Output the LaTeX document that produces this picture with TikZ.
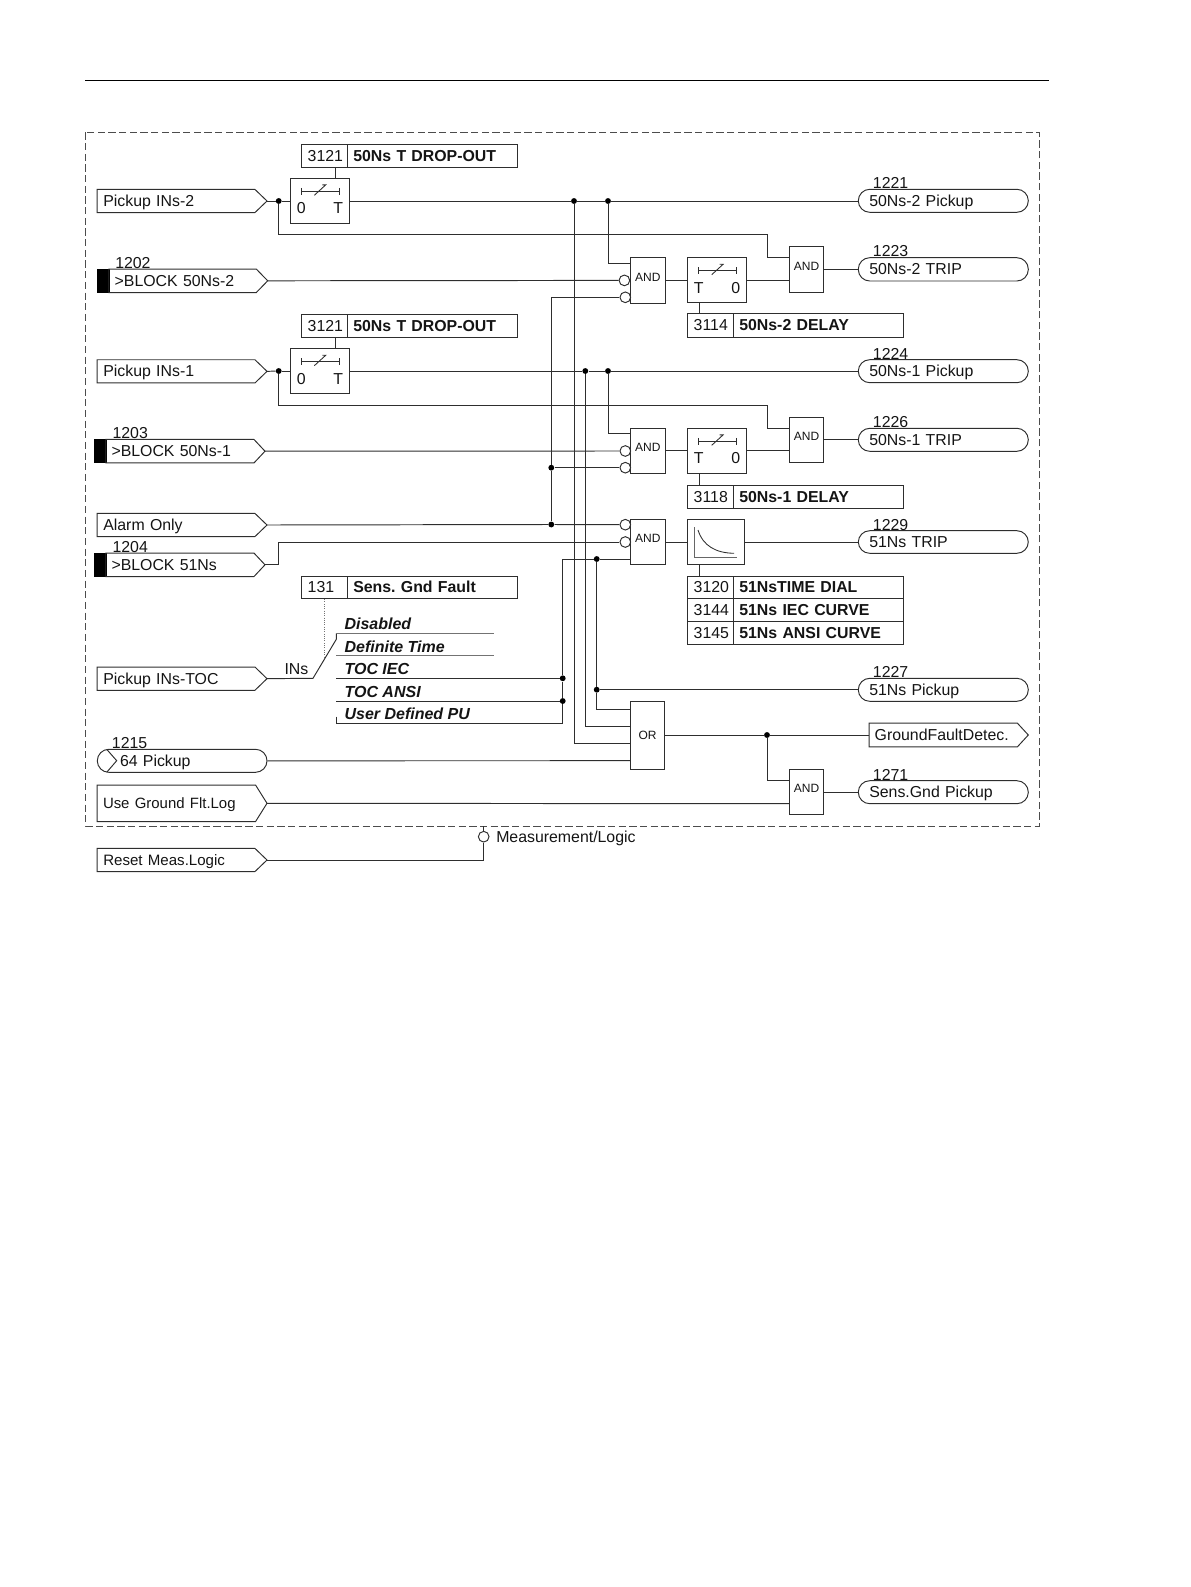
\documentclass[tikz,border=0pt]{standalone}
\usepackage{fontspec}
\setmainfont{Liberation Sans}
\definecolor{ink}{gray}{0.18}
\definecolor{txtc}{gray}{0.08}
\tikzset{
  wire/.style={draw=ink,line width=0.72pt,line join=miter},
  graywire/.style={draw=black!55,line width=0.72pt},
  dashframe/.style={draw=black!70,line width=0.72pt,dash pattern=on 5.4pt off 2.6pt},
  tb/.style={rectangle,inner ysep=0pt,align=left,text height=8.6pt,text depth=0.2pt,font=\fontsize{11.9}{14}\selectfont\frenchspacing,text=txtc},
  gatebox/.style={rectangle,draw=ink,line width=0.72pt,inner sep=0pt,font=\fontsize{9}{11}\selectfont,text=txtc,text height=6.5pt,text depth=5.2pt,align=center},
  orbox/.style={gatebox,text depth=0pt},
  plainbox/.style={gatebox,text height=0pt,text depth=0pt},
  pill/.style={draw=ink,line width=0.72pt,rounded corners=8.6pt},
  cell/.style={draw=ink,line width=0.72pt},
  dot/.style={circle,fill=black,inner sep=0pt,minimum size=4.4pt},
  inv/.style={circle,draw=ink,fill=white,line width=0.72pt,inner sep=0pt,minimum size=8pt},
  blk/.style={rectangle,fill=black,draw=black,line width=0.4pt,inner sep=0pt},
  lab/.style={anchor=west,inner sep=0pt,text height=8.6pt,text depth=0.2pt,font=\fontsize{11.9}{14}\selectfont\frenchspacing,text=txtc},
  opt/.style={lab,font=\fontsize{12}{14}\selectfont\bfseries\itshape},
  glyph/.style={draw=ink,line width=0.65pt},
}
% text box: [style]{name}{x0}{y0}{x1}{y1}{left pad}{text}
\newcommand{\tbox}[8][]{%
  \pgfmathsetmacro\mytw{(#5-#3-2*#7)*0.75}%
  \pgfmathsetmacro\mymw{(#5-#3)*0.75}%
  \pgfmathsetmacro\mymh{(#6-#4)*0.75}%
  \pgfmathsetmacro\mypad{#7*0.75}%
  \node[tb,#1,minimum width=\mymw pt,minimum height=\mymh pt,text width=\mytw pt,inner xsep=\mypad pt] (#2) at ({(#3+#5)/2},{(#4+#6)/2}) {#8};}
% gate: [style]{name}{x0}{y0}{x1}{y1}{text}
\newcommand{\gate}[7][gatebox]{%
  \pgfmathsetmacro\mymw{(#5-#3)*0.75}%
  \pgfmathsetmacro\mymh{(#6-#4)*0.75}%
  \node[#1,minimum width=\mymw pt,minimum height=\mymh pt] (#2) at ({(#3+#5)/2},{(#4+#6)/2}) {#7};}
% input flag: {name}{x0}{xshoulder}{xtip}{y0}{y1}{pad}{text}
\newcommand{\inp}[8]{%
  \tbox{#1}{#2}{#5}{#3}{#6}{#7}{#8}%
  \coordinate (#1tip) at (#4,{(#5+#6)/2});
  \draw[wire] (#1.north west) -- (#1.north east) -- (#1tip) -- (#1.south east) -- (#1.south west) -- cycle;}
% black bar: {name}{x0}{x1}{y0}{y1}
\newcommand{\blackbar}[5]{\gate[blk]{#1}{#2}{#4}{#3}{#5}{}}
% timer: {name}{x}{y}{left text}{right text}
\newcommand{\timer}[5]{%
  \gate[plainbox]{#1}{#2}{#3}{#2+58.7}{#3+45}{}%
  \begin{scope}[shift={(#2,#3)}]
    \draw[glyph] (10.7,9.5) -- (10.7,16.5);
    \draw[glyph] (48.7,9.5) -- (48.7,16.5);
    \draw[glyph] (10.7,13) -- (48.7,13);
    \draw[glyph] (24,17) -- (35.4,6.6) -- (32,6.6);
    \node[lab,anchor=center] (#1l) at (11,30) {#4};
    \node[lab,anchor=center] (#1r) at (48,30) {#5};
  \end{scope}}
% parameter row: {name}{x0}{xdiv}{x1}{y0}{y1}{num}{label}
\newcommand{\param}[8]{%
  \tbox[cell]{#1a}{#2}{#5}{#3}{#6}{6}{#7}%
  \tbox[cell]{#1b}{#3}{#5}{#4}{#6}{5.6}{\textbf{#8}}}
\begin{document}
\begin{tikzpicture}[x=0.75pt,y=-0.75pt]
\useasboundingbox (0,0) rectangle (1191,1587);
% page rule and frame
\coordinate (ruleA) at (85,80.5);
\coordinate (ruleB) at (1049,80.5);
\draw[draw=black,line width=0.6pt] (ruleA) -- (ruleB);
\coordinate (frA) at (85.5,132.5);
\coordinate (frB) at (1039,826);
\draw[dashframe] (frA) rectangle (frB);

% ---------- inputs
\inp{inA}{97.3}{254.7}{267}{189.7}{212.3}{6}{Pickup INs-2}
\blackbar{bkA}{97.3}{109}{269.3}{292.3}
\inp{inB}{109}{256}{267.7}{269.3}{292.3}{5.7}{>BLOCK 50Ns-2}
\inp{inC}{97.3}{254.7}{267}{360}{382.7}{6}{Pickup INs-1}
\blackbar{bkB}{94.7}{106}{439.7}{462.7}
\inp{inD}{106}{253.7}{265}{439.7}{462.7}{5.5}{>BLOCK 50Ns-1}
\inp{inE}{97.3}{254.7}{267}{513.7}{536.3}{6}{Alarm Only}
\blackbar{bkC}{94.7}{106}{553.3}{576.3}
\inp{inF}{106}{253.7}{265}{553.3}{576.3}{5.5}{>BLOCK 51Ns}
\inp{inG}{97.3}{254.7}{267}{667.3}{690}{6}{Pickup INs-TOC}
\tbox[pill]{inH}{97.3}{749.3}{267}{772.3}{22.7}{64 Pickup}
\coordinate (chA) at (106.7,749.3);
\coordinate (chB) at (116.7,760.7);
\coordinate (chC) at (106.7,772.3);
\draw[wire] (chA) -- (chB) -- (chC);
\inp{inI}{97.3}{255.3}{267}{785.3}{821.3}{5.7}{{\fontsize{11.2}{14}\selectfont Use Ground Flt.Log}}
\inp{inJ}{97.3}{254.7}{267}{848.7}{871.3}{6}{{\fontsize{11.3}{14}\selectfont Reset Meas.Logic}}

\node[lab] (nA) at (115,262.7) {1202};
\node[lab] (nB) at (112.3,433.3) {1203};
\node[lab] (nC) at (112.3,547) {1204};
\node[lab] (nD) at (111.7,743) {1215};

% ---------- parameter boxes
\param{pA}{301.7}{347.7}{517.3}{144.3}{167}{3121}{50Ns T DROP-OUT}
\param{pB}{301.7}{347.7}{517.3}{314.3}{337.3}{3121}{50Ns T DROP-OUT}
\param{pC}{301.7}{347.7}{517.3}{576}{598.7}{131}{Sens. Gnd Fault}
\param{pD}{687.7}{733.7}{903.3}{313.7}{337}{3114}{50Ns-2 DELAY}
\param{pE}{687.7}{733.7}{903.3}{485}{508.3}{3118}{50Ns-1 DELAY}
\param{pF}{687.7}{733.7}{903.3}{576}{598.7}{3120}{51NsTIME DIAL}
\param{pG}{687.7}{733.7}{903.3}{598.7}{621.3}{3144}{51Ns IEC CURVE}
\param{pH}{687.7}{733.7}{903.3}{621.3}{644}{3145}{51Ns ANSI CURVE}

% ---------- timers
\timer{tA}{290.3}{178.3}{0}{T}
\timer{tB}{290.3}{348.7}{0}{T}
\timer{tC}{687.7}{257.7}{T}{0}
\timer{tD}{687.7}{428.3}{T}{0}
\gate[plainbox]{tE}{687.7}{519.3}{744.3}{564.7}{}
\coordinate (axA) at (694.7,527.3);
\coordinate (axB) at (694.7,557);
\coordinate (axC) at (737.3,557);
\coordinate (cvA) at (698,530);
\coordinate (cvB) at (734,553.3);
\draw[draw=black!60,line width=0.72pt] (axA) -- (axB) -- (axC);
\draw[glyph] (cvA) .. controls (703,546) and (716,553) .. (cvB);

% ---------- gates
\gate{gA}{630.3}{257.7}{665.3}{303.3}{AND}
\gate{gB}{789.3}{246.3}{823.7}{292}{AND}
\gate{gC}{630.3}{428.3}{665.3}{473.7}{AND}
\gate{gD}{789.3}{417}{823.7}{462.7}{AND}
\gate{gE}{630.3}{519.3}{665.3}{564.3}{AND}
\gate[orbox]{gF}{630.3}{701}{664.7}{769.3}{OR}
\gate{gG}{789.3}{769.3}{823.7}{814.7}{AND}

% ---------- outputs
\tbox[pill]{oA}{858.3}{189.3}{1028.3}{212.3}{11}{50Ns-2 Pickup}
\tbox[pill]{oB}{858.3}{257.7}{1028.3}{281}{11}{50Ns-2 TRIP}
\tbox[pill]{oC}{858.3}{359.7}{1028.3}{382.7}{11}{50Ns-1 Pickup}
\tbox[pill]{oD}{858.3}{428.3}{1028.3}{451.3}{11}{50Ns-1 TRIP}
\tbox[pill]{oE}{858.3}{530.7}{1028.3}{553.3}{11}{51Ns TRIP}
\tbox[pill]{oF}{858.3}{678.3}{1028.3}{701.3}{11}{51Ns Pickup}
\inp{oG}{869.3}{1017}{1028.3}{723.3}{746.7}{5.4}{GroundFaultDetec.}
\tbox[pill]{oH}{858.3}{780.7}{1028.3}{803.7}{11}{Sens.Gnd Pickup}
\node[lab] (mA) at (872.7,183.3) {1221};
\node[lab] (mB) at (872.7,251.4) {1223};
\node[lab] (mC) at (872.7,353.4) {1224};
\node[lab] (mD) at (872.7,422) {1226};
\node[lab] (mE) at (872.7,524.4) {1229};
\node[lab] (mF) at (872.7,672) {1227};
\node[lab] (mG) at (872.7,774.4) {1271};

% ---------- junction dots
\node[dot] (dA) at (278.7,201) {};
\node[dot] (dB) at (574,201) {};
\node[dot] (dC) at (608,201) {};
\node[dot] (dD) at (278.7,371) {};
\node[dot] (dE) at (585.3,371) {};
\node[dot] (dF) at (608,371) {};
\node[dot] (dG) at (551.3,467.7) {};
\node[dot] (dH) at (551.3,524.5) {};
\node[dot] (dI) at (596.7,559) {};
\node[dot] (dJ) at (596.7,689.7) {};
\node[dot] (dK) at (562.7,678.3) {};
\node[dot] (dL) at (562.7,701) {};
\node[dot] (dM) at (767,735) {};

% ---------- inverting inputs
\node[inv] (iA) at (624.4,280.4) {};
\node[inv] (iB) at (625.3,297.3) {};
\node[inv] (iC) at (625.3,451) {};
\node[inv] (iD) at (625.3,467.7) {};
\node[inv] (iE) at (625.3,524.7) {};
\node[inv] (iF) at (625.3,542) {};

% ---------- named pins and bends
\coordinate (bA) at (767.3,234.7);
\coordinate (pB1) at (789.3,257.7);
\coordinate (pA1) at (630.3,263.3);
\coordinate (bB) at (767.3,405.7);
\coordinate (pD1) at (789.3,428.3);
\coordinate (pC1) at (630.3,433.7);
\coordinate (vT) at (551.3,297.3);
\coordinate (bF) at (278.7,542);
\coordinate (pE3) at (630.3,559);
\coordinate (vK) at (562.7,559);
\coordinate (pF1) at (630.3,709.3);
\coordinate (pF2) at (630.3,726.7);
\coordinate (pF3) at (630.3,743.7);
\coordinate (pF4) at (630.3,760.7);
\coordinate (pG1) at (789.3,780.7);
\coordinate (pG2) at (789.3,803.7);
\coordinate (hB) at (483.7,826);

% ---------- stage 1
\draw[wire] (inAtip) -- (dA);
\draw[wire] (dA) -- (dA -| tA.west);
\draw[wire] (dA -| tA.east) -- (dB) -- (dC) -- (dC -| oA.west);
\draw[wire] (dA) |- (bA) |- (pB1);
\draw[wire] (dC) |- (pA1);
\draw[wire] (inBtip) -- (iA);
\draw[wire] (iB) -- (vT) -- (dG) -- (dH);
\draw[wire] (tC.west -| gA.east) -- (tC.west);
\draw[wire] (tC.east) -- (tC.east -| gB.west);
\draw[wire] (gB.east) -- (gB.east -| oB.west);
\coordinate (sA) at (335.7,178.3);
\draw[wire] (sA) -- (sA |- pAa.south);
\coordinate (sC) at (699,302.7);
\draw[wire] (sC) -- (sC |- pDa.north);

% ---------- stage 2
\draw[wire] (inCtip) -- (dD);
\draw[wire] (dD) -- (dD -| tB.west);
\draw[wire] (dD -| tB.east) -- (dE) -- (dF) -- (dF -| oC.west);
\draw[wire] (dD) |- (bB) |- (pD1);
\draw[wire] (dF) |- (pC1);
\draw[wire] (inDtip) -- (iC);
\draw[wire] (iD) -- (dG);
\draw[wire] (tD.west -| gC.east) -- (tD.west);
\draw[wire] (tD.east) -- (tD.east -| gD.west);
\draw[wire] (gD.east) -- (gD.east -| oD.west);
\coordinate (sB) at (335.7,348.7);
\draw[wire] (sB) -- (sB |- pBa.south);
\coordinate (sD) at (699,473.3);
\draw[wire] (sD) -- (sD |- pEa.north);

% ---------- stage 3
\draw[wire] (inEtip) -- (dH) -- (iE);
\draw[wire] (inFtip) -| (bF) -- (iF);
\draw[wire] (tE.west -| gE.east) -- (tE.west);
\draw[wire] (tE.east) -- (tE.east -| oE.west);
\coordinate (sE) at (699,564.7);
\draw[wire] (sE) -- (sE |- pFa.north);
\draw[wire] (vK) -- (dI) -- (pE3);
\draw[wire] (dI) -- (dJ) |- (pF1);
\draw[wire] (dJ) -- (dJ -| oF.west);
\draw[wire] (dE) |- (pF2);
\draw[wire] (dB) |- (pF3);
\draw[wire] (inH.east) -- (pF4);

% ---------- characteristic selector
\coordinate (swA) at (313,678.3);
\coordinate (swB) at (336.3,639.3);
\coordinate (swC) at (336.3,633.3);
\coordinate (swD) at (494.3,633.3);
\coordinate (swE) at (336.3,655.7);
\coordinate (swF) at (494.3,655.7);
\coordinate (swG) at (336.3,678.3);
\coordinate (swH) at (336.3,701);
\coordinate (swI) at (336.3,716.7);
\coordinate (swJ) at (562.7,723.7);
\draw[wire] (inGtip) -- (swA) -- (swB) -- (swC);
\draw[graywire] (swC) -- (swD);
\draw[graywire] (swE) -- (swF);
\draw[wire] (swG) -- (dK);
\draw[wire] (swH) -- (dL);
\draw[wire] (swI) |- (swJ) -- (dL) -- (dK) -- (vK);
\coordinate (dotEnd) at (324.7,656.7);
\draw[black!55,line width=0.72pt,densely dotted] (pCa.south) -- (dotEnd);
\node[opt] (sa) at (344.3,624) {Disabled};
\node[opt] (sb) at (344.3,647) {Definite Time};
\node[opt] (sc) at (344.3,669.3) {TOC IEC};
\node[opt] (sd) at (344.3,692) {TOC ANSI};
\node[opt] (se) at (344.3,714) {User Defined PU};
\node[lab] (sf) at (284.3,669) {INs};

% ---------- OR and last AND
\draw[wire] (gF.east |- dM) -- (dM) -- (dM -| oG.west);
\draw[wire] (dM) |- (pG1);
\draw[wire] (inItip) -- (pG2);
\draw[wire] (gG.east) -- (gG.east -| oH.west);

% ---------- reset
\node[inv] (iG) at (483.7,836.7) {};
\draw[wire] (inJtip) -| (iG);
\draw[wire] (iG) -- (hB);
\node[lab] (rA) at (496,836.7) {Measurement/Logic};
\end{tikzpicture}
\end{document}
